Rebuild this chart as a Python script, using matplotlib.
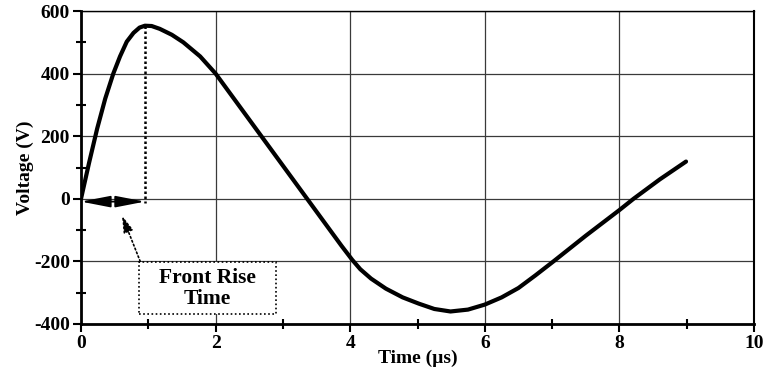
import matplotlib
matplotlib.use("Agg")
import matplotlib.pyplot as plt
from matplotlib.patches import Rectangle
from matplotlib.ticker import MultipleLocator

plt.rcParams['font.family'] = ['Liberation Serif', 'DejaVu Serif']
plt.rcParams['font.weight'] = 'bold'
plt.rcParams['axes.unicode_minus'] = False

time_us = [0, 0.12, 0.24, 0.36, 0.48, 0.58, 0.68, 0.78, 0.87, 0.95, 1.05, 1.17,
           1.35, 1.52, 1.77, 2.0, 2.34, 2.68, 3.02, 3.36, 3.70, 3.87, 4.03, 4.15,
           4.31, 4.53, 4.78, 5.02, 5.25, 5.49, 5.75, 6.0, 6.25, 6.5, 6.75, 7.02,
           7.5, 8.0, 8.21, 8.6, 8.99]
voltage = [0, 115, 224, 320, 400, 455, 502, 530, 547, 553, 552, 543,
           524, 500, 455, 400, 300, 200, 100, 0, -100, -150, -195, -225,
           -255, -287, -315, -335, -352, -360, -354, -338, -315, -285, -245, -200,
           -118, -36, 0, 62, 119]

rise_time = 0.95
peak_v = 553
x_ticks = [0, 2, 4, 6, 8, 10]
y_ticks = [-400, -200, 0, 200, 400, 600]
annot_text = "Front Rise\nTime"

fig = plt.figure(figsize=(7.7, 3.77), dpi=100)
ax = fig.add_axes([81/770, 53/377, (754-81)/770, (324-11)/377])

ax.set_xlim(0, 10)
ax.set_ylim(-400, 600)
ax.set_xticks(x_ticks)
ax.set_yticks(y_ticks)
ax.xaxis.set_minor_locator(MultipleLocator(1))
ax.yaxis.set_minor_locator(MultipleLocator(100))
ax.grid(True, which='major', color='#3a3a3a', linewidth=0.9)
ax.set_axisbelow(True)

ax.tick_params(which='major', direction='out', length=6, width=1.5, labelsize=14, pad=2)
ax.tick_params(which='minor', direction='inout', length=7, width=1.5)
for lab in ax.get_xticklabels() + ax.get_yticklabels():
    lab.set_fontweight('bold')

ax.spines['left'].set_linewidth(2.0)
ax.spines['bottom'].set_linewidth(2.0)
ax.spines['right'].set_linewidth(1.5)
ax.spines['top'].set_linewidth(1.0)

ax.plot(time_us, voltage, color='black', linewidth=3.0, solid_joinstyle='round',
        solid_capstyle='round', zorder=5)

# dotted vertical line at rise time
ax.plot([rise_time, rise_time], [peak_v, -15], color='black', linestyle=(0, (1, 1)),
        linewidth=1.8, zorder=4)

# double arrow
ax.annotate('', xy=(0, -9), xytext=(rise_time, -9),
            arrowprops=dict(arrowstyle='<|-|>,head_length=1.8,head_width=0.35',
                            color='black', lw=1.3, shrinkA=0, shrinkB=0), zorder=6)

# dotted pointer arrow
ax.annotate('', xy=(0.61, -54), xytext=(0.88, -200),
            arrowprops=dict(arrowstyle='-|>,head_length=1.0,head_width=0.3',
                            color='black', lw=1.2, linestyle=(0, (1, 1.5)),
                            shrinkA=0, shrinkB=0), zorder=6)

# annotation box
rect = Rectangle((0.86, -367), 2.04, 166, facecolor='white', edgecolor='black',
                 linestyle=(0, (1, 1.5)), linewidth=1.2, zorder=4)
ax.add_patch(rect)
ax.text(1.88, -286, annot_text, ha='center', va='center', fontsize=15.5,
        fontweight='bold', linespacing=1.1, zorder=7)

ax.set_xlabel('Time (µs)', fontsize=14, fontweight='bold', labelpad=-2)
ax.set_ylabel('Voltage (V)', fontsize=14, fontweight='bold', labelpad=0)

fig.savefig('out.png', dpi=100)
